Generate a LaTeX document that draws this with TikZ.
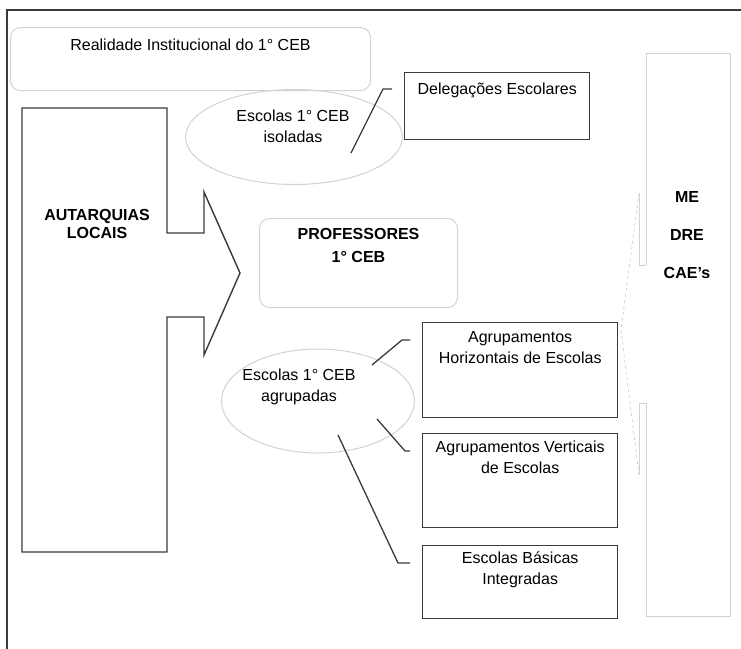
\documentclass[tikz,border=0pt]{standalone}
\usepackage{fontspec}
\setmainfont{Liberation Sans}
\usetikzlibrary{positioning,shapes.geometric}
\definecolor{darkline}{HTML}{3A3A3A}
\definecolor{lightline}{HTML}{D2D2D2}
\tikzset{
  txt/.style={inner sep=0pt, align=center, font=\fontsize{16}{21}\selectfont},
  btxt/.style={inner sep=0pt, align=center, font=\fontsize{16}{23}\selectfont\bfseries},
  box/.style={draw=darkline, line width=1.4pt, anchor=north west, inner sep=0pt},
  rbox/.style={draw=lightline, line width=1pt, rounded corners=10pt, anchor=north west, inner sep=0pt},
  oval/.style={ellipse, draw=lightline, line width=1pt, inner sep=0pt},
  link/.style={draw=darkline, line width=1.3pt},
}
\begin{document}
\begin{tikzpicture}[x=1pt,y=-1pt]
   \useasboundingbox (0,0) rectangle (741,648);
   \draw[darkline, line width=1.6pt] (7,660) -- (7,10) -- (750,10);

   \node(real) [rbox, minimum width=360pt, minimum height=63pt] at (10,27) {};
   \node(realt) [txt, below=12pt of real.north] {Realidade Institucional do 1° CEB};

   \node(deleg) [box, minimum width=185pt, minimum height=67pt] at (404,72) {};
   \node(delegt) [txt, below=11pt of deleg.north] {Delegações Escolares};

   \node(iso) [oval, minimum width=217pt, minimum height=95pt] at (294,137) {};
   \node(isot) [txt] at (293,126) {Escolas 1° CEB\\isoladas};

   \draw[darkline, line width=1.4pt] (22,108) -- (167,108) -- (167,233) -- (204,233) -- (204,192)
      -- (240,273) -- (204,355) -- (204,317) -- (167,317) -- (167,552) -- (22,552) -- cycle;
   \node(autarq) [btxt, font=\fontsize{16}{18}\selectfont\bfseries] at (97,224) {AUTARQUIAS\\LOCAIS};

   \node(prof) [rbox, minimum width=198pt, minimum height=89pt] at (259,218) {};
   \node(proft) [btxt, below=10pt of prof.north] {PROFESSORES\\1° CEB};

   \node(agr) [oval, minimum width=193pt, minimum height=104pt] at (318,401) {};
   \node(agrt) [txt] at (299,387) {Escolas 1° CEB\\agrupadas};

   \node(horiz) [box, minimum width=195pt, minimum height=95pt] at (422,322) {};
   \node(horizt) [txt, below=9pt of horiz.north] {Agrupamentos\\Horizontais de Escolas};
   \node(vert) [box, minimum width=195pt, minimum height=94pt] at (422,433) {};
   \node(vertt) [txt, below=8pt of vert.north] {Agrupamentos Verticais\\de Escolas};
   \node(basic) [box, minimum width=195pt, minimum height=73pt] at (422,545) {};
   \node(basict) [txt, below=7pt of basic.north] {Escolas Básicas\\Integradas};

   \coordinate (iso-s) at (351,153);
   \coordinate (iso-k) at (383,89);
   \coordinate (iso-e) at (392,89);
   \coordinate (hor-s) at (372,365);
   \coordinate (hor-k) at (402,340);
   \coordinate (hor-e) at (410,340);
   \coordinate (ver-s) at (377,419);
   \coordinate (ver-k) at (405,451);
   \coordinate (ver-e) at (410,451);
   \coordinate (bas-s) at (338,435);
   \coordinate (bas-k) at (398,563);
   \coordinate (bas-e) at (410,563);
   \draw[link] (iso-s) -- (iso-k) -- (iso-e);
   \draw[link] (hor-s) -- (hor-k) -- (hor-e);
   \draw[link] (ver-s) -- (ver-k) -- (ver-e);
   \draw[link] (bas-s) -- (bas-k) -- (bas-e);

   \draw[lightline, line width=1pt] (646,265) -- (646,53) -- (730,53) -- (730,616) -- (646,616)
      -- (646,403) -- (639,403) -- (639,475);
   \draw[lightline, line width=1pt] (646,265) -- (639,265) -- (639,193);
   \draw[lightline, line width=0.8pt, dashed] (639,193) -- (621,330) -- (639,475);
   \node(me) [btxt, font=\fontsize{16}{38}\selectfont\bfseries] at (687,235) {ME\\DRE\\CAE’s};
\end{tikzpicture}
\end{document}
